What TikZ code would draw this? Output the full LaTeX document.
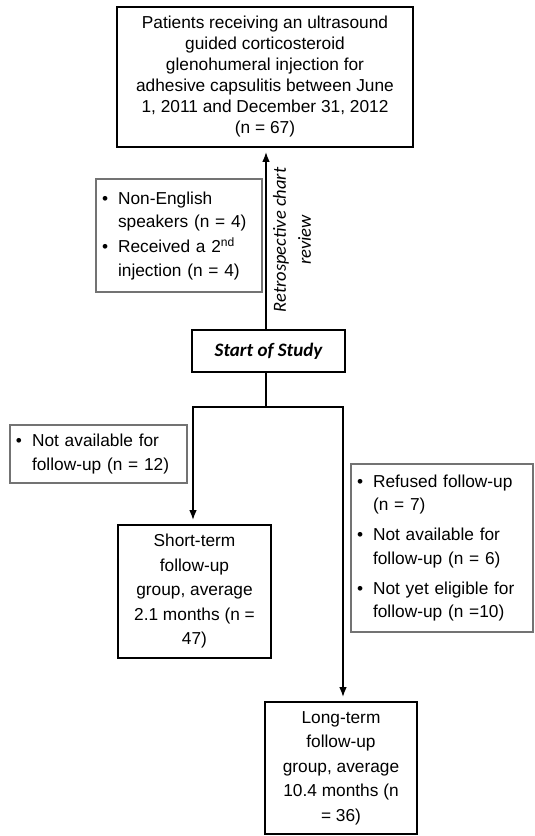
\documentclass[tikz,border=0pt]{standalone}
\usepackage{fontspec}
\setmainfont{Liberation Sans}
\newfontfamily\calibrifont{Carlito}
\usetikzlibrary{arrows.meta}
\usetikzlibrary{positioning}

\tikzset{
  mainbox/.style={draw, line width=1.6pt, inner sep=0pt, align=center,
    font=\fontsize{17.3}{21}\selectfont},
  exclbox/.style={draw=black!55, line width=1.2pt, inner ysep=0pt, inner xsep=6pt,
    align=left, font=\fontsize{17.3}{23.5}\selectfont},
  link/.style={line width=1.6pt},
  arrow/.style={link, -{Latex[length=10pt,width=7.5pt]}, shorten >=4pt},
}

% bullet list inside the exclusion boxes
\newcommand{\itm}{\textbullet &}
\newenvironment{excllist}{\begin{tabular}{@{}l@{\hspace{10pt}}l@{}}}{\end{tabular}}

\begin{document}
\begin{tikzpicture}[x=1pt,y=-1pt]
\useasboundingbox (0,0) rectangle (535,836);

% boxes
\node[mainbox, minimum width=296pt, minimum height=140pt] (patients) at (265,77)
  {Patients receiving an ultrasound\\guided corticosteroid\\glenohumeral injection for\\
   adhesive capsulitis between June\\1, 2011 and December 31, 2012\\(n = 67)};
\node[mainbox, font=\calibrifont\bfseries\itshape\fontsize{19}{23}\selectfont,
  minimum width=153pt, minimum height=42pt] (start) at (268.5,351) {Start of Study};
\node[mainbox, font=\fontsize{17.3}{24.5}\selectfont, minimum width=153pt,
  minimum height=133pt] (short) at (194.5,591.5)
  {Short-term\\follow-up\\group, average\\2.1 months (n =\\47)};
\node[mainbox, font=\fontsize{17.3}{24.5}\selectfont, minimum width=152pt,
  minimum height=132pt] (long) at (341,768)
  {Long-term\\follow-up\\group, average\\10.4 months (n\\= 36)};

% exclusions
\node[exclbox, text width=154pt, minimum height=113pt] (exclA) at (179,235.5)
  {\begin{excllist}
   \itm Non-English\\
       & speakers (n = 4)\\[1.5pt]
   \itm Received a 2\textsuperscript{nd}\\
       & injection (n = 4)
   \end{excllist}};
\node[exclbox, text width=165pt, minimum height=58pt] (exclB) at (98.5,454)
  {\begin{excllist}
   \itm Not available for\\
       & follow-up (n = 12)
   \end{excllist}};
\node[exclbox, text width=170pt, minimum height=168pt] (exclC) at (442,548)
  {\begin{excllist}
   \itm Refused follow-up\\
       & (n = 7)\\[6.5pt]
   \itm Not available for\\
       & follow-up (n = 6)\\[6.5pt]
   \itm Not yet eligible for\\
       & follow-up (n =10)
   \end{excllist}};

% label on the arrow
\node[rotate=90, align=center, font=\calibrifont\itshape\fontsize{18.5}{25}\selectfont]
  (retro) at (292,240) {Retrospective chart\\review};

% lines
\coordinate (split) at (266,407);
\coordinate (splitL) at (193,407);
\coordinate (splitR) at (343,407);
\draw[arrow] (start.north -| split) -- (patients.south -| split);
\draw[link] (start.south -| split) -- (split);
\draw[arrow] (splitR) -- (splitL) -- (splitL |- short.north);
\draw[arrow] (splitL) -- (splitR) -- (splitR |- long.north);
\end{tikzpicture}
\end{document}
